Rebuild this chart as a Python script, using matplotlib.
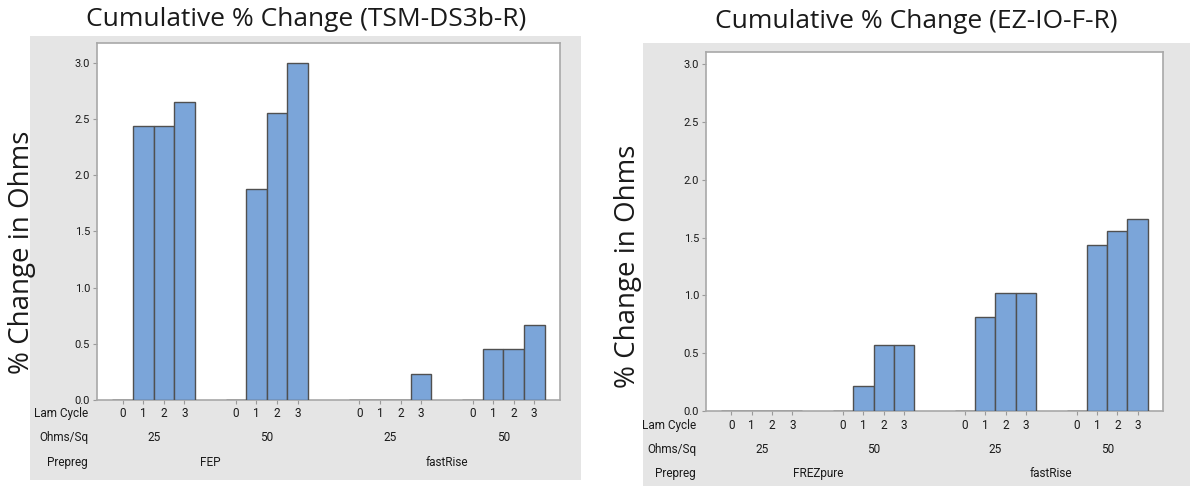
import matplotlib
matplotlib.use("Agg")
import matplotlib.pyplot as plt
from matplotlib.patches import Rectangle

# ---- data ----
lam_cycle = ["0", "1", "2", "3"]
ohms_sq = ["25", "50"]
prepreg_left = ["FEP", "fastRise"]
prepreg_right = ["FREZpure", "fastRise"]
title_left = "Cumulative % Change (TSM-DS3b-R)"
title_right = "Cumulative % Change (EZ-IO-F-R)"
ylabel = "% Change in Ohms"
yticks = [0.0, 0.5, 1.0, 1.5, 2.0, 2.5, 3.0]

tsm_values = [0.0, 2.44, 2.44, 2.65,
              0.0, 1.88, 2.55, 3.00,
              0.0, 0.0, 0.0, 0.23,
              0.0, 0.455, 0.455, 0.67]
ez_values = [0.0, 0.0, 0.0, 0.0,
             0.0, 0.22, 0.57, 0.57,
             0.0, 0.81, 1.02, 1.02,
             0.0, 1.44, 1.56, 1.66]

# ---- layout ----
W, H = 1190, 486
fig = plt.figure(figsize=(W / 100, H / 100), dpi=100)
fig.patch.set_facecolor("white")

BAR = "#7BA5D9"
EDGE = "#505050"
PANEL = "#E5E5E5"
TXT = "#1a1a1a"
label_font = ["Roboto", "DejaVu Sans"]
title_font = ["Open Sans", "DejaVu Sans"]

group_starts = [0.0, 5.5, 11.5, 17.0]
positions = [g + i for g in group_starts for i in range(len(lam_cycle))]


def px_rect(x0, y0, x1, y1):
    return [x0 / W, 1 - y1 / H, (x1 - x0) / W, (y1 - y0) / H]


def panel(ax_box, gray_box, values, prepregs, title, title_xy, ylab_xy, row_y, row_x, ymax):
    gx0, gy0, gx1, gy1 = gray_box
    bg = Rectangle((gx0 / W, 1 - gy1 / H), (gx1 - gx0) / W, (gy1 - gy0) / H,
                   transform=fig.transFigure, facecolor=PANEL,
                   edgecolor="none", zorder=-10)
    fig.add_artist(bg)
    ax = fig.add_axes(px_rect(*ax_box))
    ax.set_zorder(2)
    ax.set_facecolor("white")
    ax.bar(positions, values, width=1.0, color=BAR, edgecolor=EDGE, linewidth=1.0, zorder=3)
    ax.set_xlim(-1.25, 21.25)
    ax.set_ylim(0, ymax)
    ax.set_yticks(yticks)
    ax.set_yticklabels([f"{v:.1f}" for v in yticks], fontsize=8, family=label_font, color=TXT)
    ax.set_xticks(positions)
    ax.set_xticklabels([])
    ax.tick_params(axis="both", length=3, width=0.8, color="#9a9a9a", pad=2)
    for s in ax.spines.values():
        s.set_color("#a8a8a8")
        s.set_linewidth(1.2)

    tr = ax.get_xaxis_transform()
    ax_h_px = ax_box[3] - ax_box[1]

    def yax(ypx):
        return (ax_box[3] - ypx) / ax_h_px

    y_lam, y_ohm, y_pre = row_y
    for p, lab in zip(positions, lam_cycle * 4):
        ax.text(p, yax(y_lam), lab, transform=tr, ha="center", va="center",
                fontsize=8.5, family=label_font, color=TXT, clip_on=False)
    for gi, g in enumerate(group_starts):
        ax.text(g + 1.5, yax(y_ohm), ohms_sq[gi % 2], transform=tr, ha="center", va="center",
                fontsize=8.5, family=label_font, color=TXT, clip_on=False)
    for pi in range(2):
        c = (group_starts[2 * pi] + group_starts[2 * pi + 1] + 3) / 2
        ax.text(c, yax(y_pre), prepregs[pi], transform=tr, ha="center", va="center",
                fontsize=8.5, family=label_font, color=TXT, clip_on=False)
    for ypx, lab in zip(row_y, ["Lam Cycle", "Ohms/Sq", "Prepreg"]):
        fig.text(row_x / W, 1 - ypx / H, lab, ha="right", va="center",
                 fontsize=8.5, family=label_font, color=TXT)

    fig.text(title_xy[0] / W, 1 - title_xy[1] / H, title, ha="center", va="center",
             fontsize=19, family=title_font, color=TXT)
    fig.text(ylab_xy[0] / W, 1 - ylab_xy[1] / H, ylabel, ha="center", va="center",
             rotation=90, fontsize=20, family=title_font, color=TXT)
    return ax


panel((97, 43, 560, 400), (30, 36, 581, 480), tsm_values, prepreg_left,
      title_left, (306, 19), (22, 252), (413, 437, 462), 88, 3.175)
panel((706, 52, 1163, 411), (643, 43, 1190, 486), ez_values, prepreg_right,
      title_right, (916, 21), (628, 266), (425, 449, 473), 696, 3.105)

fig.savefig("out.png", dpi=100, facecolor="white")
